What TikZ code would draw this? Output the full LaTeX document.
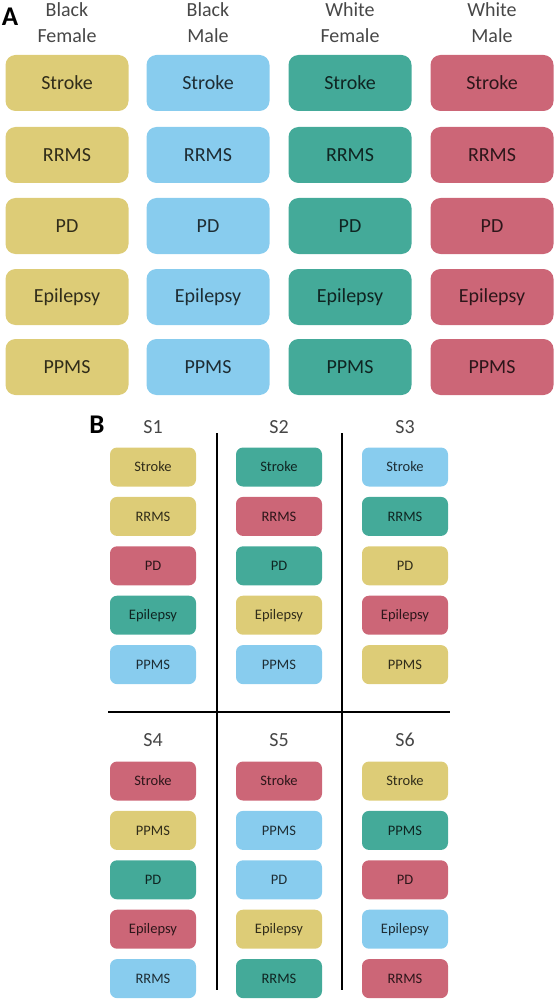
\documentclass[tikz,border=0pt]{standalone}
\usepackage{fontspec}
\setmainfont{Carlito}
\definecolor{cY}{HTML}{DDCC77}
\definecolor{cB}{HTML}{88CCEE}
\definecolor{cT}{HTML}{44AA99}
\definecolor{cR}{HTML}{CC6677}
\begin{document}
\begin{tikzpicture}[x=1pt,y=-1pt,
  abox/.style={rounded corners=10pt, minimum width=123pt, minimum height=56pt, inner sep=0pt, font=\fontsize{20}{20}\selectfont},
  bbox/.style={rounded corners=7pt, minimum width=86pt, minimum height=39pt, inner sep=0pt, font=\fontsize{14.5}{14.5}\selectfont},
  col/.style={fill=#1, text=#1!22!black},
  hdr/.style={font=\fontsize{20}{26}\selectfont, text=black!72, align=center},
  plabel/.style={font=\bfseries\fontsize{27}{27}\selectfont},
  sep/.style={line width=2.8pt, black}]
\useasboundingbox (0,0) rectangle (556,1000);
% Part A
\node[plabel] (lA) at (10,17) {A};
\node[hdr] (h1) at (67,23) {Black\\Female};
\node[hdr] (h2) at (208,23) {Black\\Male};
\node[hdr] (h3) at (350,23) {White\\Female};
\node[hdr] (h4) at (492,23) {White\\Male};
\foreach \c/\x/\cc in {1/67/cY,2/208/cB,3/350/cT,4/492/cR}{
  \foreach \r/\y/\t in {1/83/Stroke,2/155/RRMS,3/226/PD,4/297/Epilepsy,5/367/PPMS}{
    \node[abox, col=\cc] (a\c\r) at (\x,\y) {\t};
  }
}
% Part B
\node[plabel] (lB) at (97,425) {B};
\foreach \p/\x/\y/\s in {1/153/427/S1,2/279/427/S2,3/405/427/S3,4/153/740/S4,5/279/740/S5,6/405/740/S6}{
  \node[hdr] (s\p) at (\x,\y) {\s};
}
\foreach \p/\x/\yb/\items in {
  1/153/467/{Stroke/cY,RRMS/cY,PD/cR,Epilepsy/cT,PPMS/cB},
  2/279/467/{Stroke/cT,RRMS/cR,PD/cT,Epilepsy/cY,PPMS/cB},
  3/405/467/{Stroke/cB,RRMS/cT,PD/cY,Epilepsy/cR,PPMS/cY},
  4/153/781/{Stroke/cR,PPMS/cY,PD/cT,Epilepsy/cR,RRMS/cB},
  5/279/781/{Stroke/cR,PPMS/cB,PD/cB,Epilepsy/cY,RRMS/cT},
  6/405/781/{Stroke/cY,PPMS/cT,PD/cR,Epilepsy/cB,RRMS/cR}}{
  \foreach \t/\cc [count=\k] in \items{
    \node[bbox, col=\cc] (b\p\k) at (\x,{\yb+(\k-1)*49.4}) {\t};
  }
}
\coordinate (v1t) at (217,433);
\coordinate (v1b) at (217,990);
\coordinate (v2t) at (342,433);
\coordinate (v2b) at (342,990);
\coordinate (hl) at (108,712);
\coordinate (hr) at (450,712);
\draw[sep] (v1t) -- (v1b);
\draw[sep] (v2t) -- (v2b);
\draw[sep] (hl) -- (hr);
\end{tikzpicture}
\end{document}
